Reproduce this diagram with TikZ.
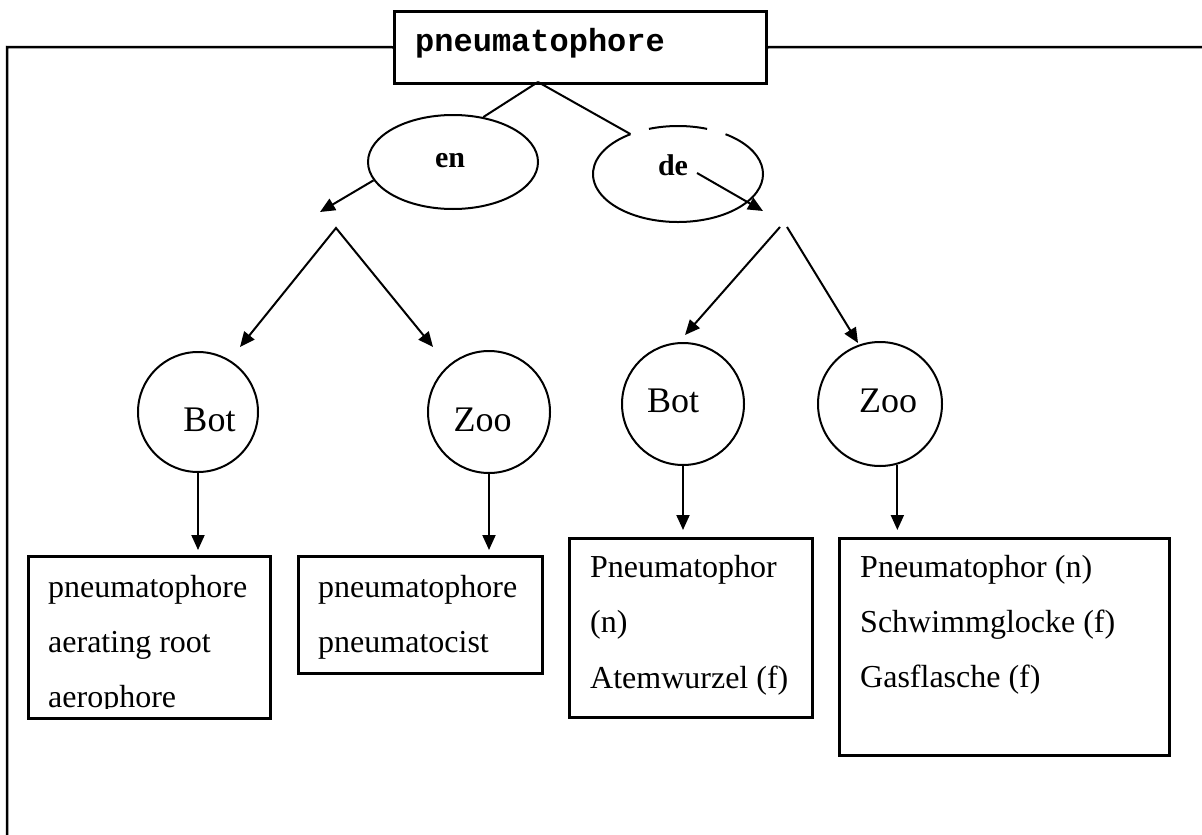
\documentclass[tikz,border=0pt]{standalone}
\usepackage{fontspec}
\setmainfont{Liberation Serif}
\newfontfamily\courfont{Liberation Mono}
\usetikzlibrary{arrows.meta,shapes.geometric,calc}
\begin{document}
\begin{tikzpicture}[x=1pt,y=-1pt,
  frame/.style={line width=2.5pt},
  conn/.style={line width=2pt},
  arr/.style={line width=2pt,-{Triangle[length=15pt,width=13pt]}},
  arrtwo/.style={line width=2pt,{Triangle[length=15pt,width=13pt]}-{Triangle[length=15pt,width=13pt]}},
  boxst/.style={draw,line width=2.5pt,rectangle,inner sep=0pt,anchor=north west},
  circ/.style={draw,circle,line width=2pt,inner sep=0pt},
  ell/.style={ellipse,inner sep=0pt,minimum width=170pt,minimum height=94pt},
  txt/.style={inner sep=0pt,anchor=base west,font=\fontsize{32}{38}\selectfont},
  ctxt/.style={inner sep=0pt,anchor=base,font=\fontsize{36}{43}\selectfont},
  ltxt/.style={inner sep=0pt,anchor=base,font=\fontsize{30}{36}\selectfont\bfseries}
]
\useasboundingbox (0,0) rectangle (1202,835);

% title and frame
\node[boxst,minimum width=372pt,minimum height=72pt] (title) at (393,10) {};
\node[inner sep=0pt,anchor=base west,font=\courfont\bfseries\fontsize{32}{38}\selectfont] (titletxt) at (415,51) {pneumatophore};
\coordinate (fc) at (7,47);
\coordinate (fb) at (7,835);
\coordinate (fr) at (1202,47);
\draw[frame] (title.west) -- (fc) -- (fb);
\draw[frame] (title.east) -- (fr);

% language ellipses
\node[ell,draw,line width=2pt] (en) at (453,162) {};
\node[ltxt] (entxt) at (450,167) {en};
\node[ell,minimum height=96pt] (de) at (678,174) {};
\draw[conn] (de.center) ++(-110:85 and 48) arc[start angle=-110,end angle=-70,x radius=85,y radius=48];
\draw[conn] (de.center) ++(-56:85 and 48) arc[start angle=-56,end angle=236,x radius=85,y radius=48];
\node[ltxt] (detxt) at (673,175) {de};

\coordinate (tb) at (538,82);
\draw[conn] (tb) -- (en.56);
\draw[conn] (tb) -- (de.140);

\coordinate (enT) at (320,212);
\draw[arr] (en.193) -- (enT);
\coordinate (deA) at (697,173);
\coordinate (deT) at (763,211);
\draw[arr] (deA) -- (deT);

% V branches
\coordinate (vL) at (336,228);
\coordinate (vLa) at (240,347);
\coordinate (vLb) at (433,347);
\draw[arrtwo] (vLa) -- (vL) -- (vLb);
\coordinate (vRa) at (780,227);
\coordinate (vRb) at (787,227);
\coordinate (vRaT) at (685,335);
\coordinate (vRbT) at (858,343);
\draw[arr] (vRa) -- (vRaT);
\draw[arr] (vRb) -- (vRbT);

% domain circles
\node[circ,minimum size=120pt] (botL) at (198,412) {};
\node[ctxt] (botLt) at (209.5,431) {Bot};
\node[circ,minimum size=122pt] (zooL) at (489,412) {};
\node[ctxt] (zooLt) at (482.5,431) {Zoo};
\node[circ,minimum size=122pt] (botR) at (683,404) {};
\node[ctxt] (botRt) at (673,412) {Bot};
\node[circ,minimum size=124pt] (zooR) at (880,404) {};
\node[ctxt] (zooRt) at (888,412) {Zoo};

% term boxes
\node[boxst,minimum width=242pt,minimum height=162pt] (b1) at (27,555) {};
\node[boxst,minimum width=244pt,minimum height=117pt] (b2) at (297,555) {};
\node[boxst,minimum width=243pt,minimum height=179pt] (b3) at (568,537) {};
\node[boxst,minimum width=330pt,minimum height=217pt] (b4) at (838,537) {};

\draw[arr,shorten >=5pt] (botL.south) -- (botL.south |- b1.north);
\draw[arr,shorten >=5pt] (zooL.south) -- (zooL.south |- b2.north);
\draw[arr,shorten >=7pt] (botR.south) -- (botR.south |- b3.north);
\draw[arr,shorten >=7pt] (zooR.-74) -- (zooR.-74 |- b4.north);

% texts
\node[txt] (t11) at (48,597) {pneumatophore};
\node[txt] (t12) at (48,652) {aerating root};
\begin{scope}
\clip (27,555) rectangle (269,708);
\node[txt] (t13) at (48,707) {aerophore};
\end{scope}
\node[txt] (t21) at (318,597) {pneumatophore};
\node[txt] (t22) at (318,652) {pneumatocist};
\node[txt] (t31) at (590,577) {Pneumatophor};
\node[txt] (t32) at (590,632) {(n)};
\node[txt] (t33) at (590,688) {Atemwurzel (f)};
\node[txt] (t41) at (860,577) {Pneumatophor (n)};
\node[txt] (t42) at (860,632) {Schwimmglocke (f)};
\node[txt] (t43) at (860,687) {Gasflasche (f)};
\end{tikzpicture}
\end{document}
